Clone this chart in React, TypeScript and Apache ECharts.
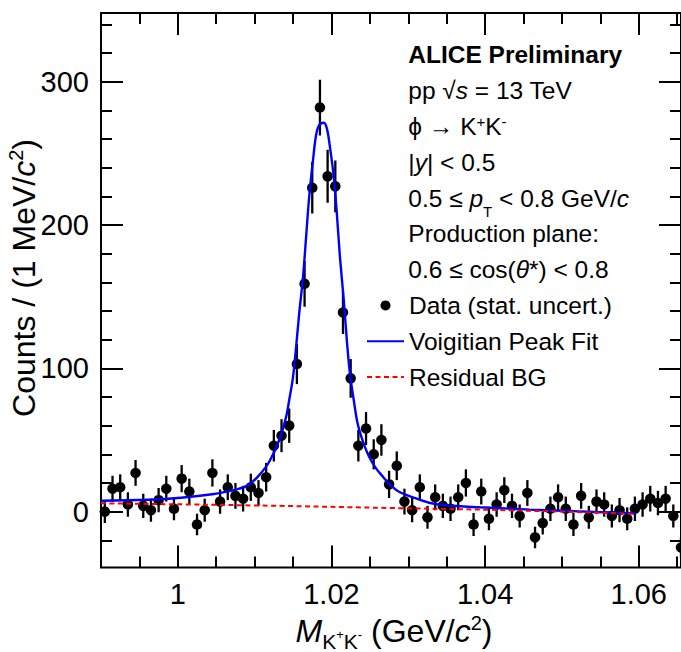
import React, { useEffect, useRef } from 'react';
import * as echarts from 'echarts';

// ---------------- data ----------------
const massBins = [
  0.9905, 0.9915, 0.9925, 0.9935, 0.9945, 0.9955, 0.9965, 0.9975, 0.9985, 0.9995,
  1.0005, 1.0015, 1.0025, 1.0035, 1.0045, 1.0055, 1.0065, 1.0075, 1.0085, 1.0095,
  1.0105, 1.0115, 1.0125, 1.0135, 1.0145, 1.0155, 1.0165, 1.0175, 1.0185, 1.0195,
  1.0205, 1.0215, 1.0225, 1.0235, 1.0245, 1.0255, 1.0265, 1.0275, 1.0285, 1.0295,
  1.0305, 1.0315, 1.0325, 1.0335, 1.0345, 1.0355, 1.0365, 1.0375, 1.0385, 1.0395,
  1.0405, 1.0415, 1.0425, 1.0435, 1.0445, 1.0455, 1.0465, 1.0475, 1.0485, 1.0495,
  1.0505, 1.0515, 1.0525, 1.0535, 1.0545, 1.0555, 1.0565, 1.0575, 1.0585, 1.0595,
  1.0605, 1.0615, 1.0625, 1.0635, 1.0645, 1.0655,
];
const counts = [
  0, 16, 17, 5, 27, 4, 1, 8, 16, 2,
  23, 14, -9, 1, 27, 7, 17, 11, 9, 17,
  13, 24, 46, 53, 60, 103, 159, 226, 282, 234,
  227, 139, 93, 46, 58, 40, 50, 19, 32, 7,
  1, 17, -4, 10, 4, 2, 10, 20, -9, 14,
  -5, 5, 15, 4, -3, 13, -18, -8, 2, 10,
  2, -9, 11, -4, 7, 5, -3, 1, -5, 2,
  5, 9, 6, 9, -3, -25,
];
const statErrors = [
  8, 9, 9, 8.5, 9, 8.5, 8, 8.5, 9, 8,
  9.5, 9, 7.5, 8, 9.5, 8.5, 9, 9, 9, 9.5,
  9, 10, 11, 11.5, 12, 14, 16, 18, 19.5, 18.5,
  18, 15, 13.5, 11, 11.5, 10.5, 11, 9.5, 10, 9,
  8.5, 9, 8, 9, 8.5, 8.5, 9, 9.5, 8, 9,
  8, 8.5, 9, 8.5, 8, 9, 7.5, 8, 8.5, 9,
  8.5, 8, 9, 8, 8.5, 8.5, 8, 8.5, 8, 8.5,
  8.5, 9, 8.5, 9, 8, 7.5,
];
const fitMass = [
  0.99, 0.9961, 1.0004, 1.0047, 1.0069, 1.008, 1.0093, 1.0106, 1.0119, 1.0132,
  1.0141, 1.0145, 1.015, 1.0154, 1.0158, 1.0163, 1.0167, 1.0171, 1.0176, 1.018,
  1.0184, 1.019, 1.0194, 1.0198, 1.0203, 1.0207, 1.0211, 1.0216, 1.022, 1.0224,
  1.0229, 1.0234, 1.0241, 1.0249, 1.0258, 1.0267, 1.0275, 1.0288, 1.0306, 1.0327,
  1.0349, 1.0393, 1.0436, 1.0458, 1.0501, 1.0544, 1.0596,
];
const fitValues = [
  7.6, 8.3, 9.7, 12.3, 14.6, 16, 19, 25.5, 34.8, 50,
  66.2, 77.9, 94.1, 115, 138.4, 163.9, 191.8, 219.7, 245.4, 262.8,
  269.8, 271.4, 267.5, 254.6, 233.7, 208.2, 177.9, 147.7, 119.7, 96.5,
  77.9, 61.6, 48.8, 38.3, 30.2, 24.4, 19.4, 13.9, 10, 6.2,
  4.4, 3, 2, 1.4, 0.6, -0.3, -1.2,
];
const bgMass = [0.99, 1.01, 1.03, 1.045, 1.0596];
const bgValues = [5.8, 4.3, 2.3, 0.7, -1.6];

const xMajorTicks = [1.0, 1.02, 1.04, 1.06];
const xTickLabels = ['1', '1.02', '1.04', '1.06'];
const xMinorTicks = [0.995, 1.005, 1.01, 1.015, 1.025, 1.03, 1.035, 1.045, 1.05, 1.055, 1.065];
const yMajorTicks = [0, 100, 200, 300];
const yTickLabels = ['0', '100', '200', '300'];
const yMinorTicks = [-20, 20, 40, 60, 80, 120, 140, 160, 180, 220, 240, 260, 280, 320, 340];

const legendNames = ['Data (stat. uncert.)', 'Voigitian Peak Fit', 'Residual BG'];
const infoLines = [
  '{b|ALICE Preliminary}',
  '{n|pp }{n|√}{i|s}{n| = 13 TeV}',
  '{n|ϕ → K}{sup|+}{n|K}{sup|-}',
  '{n||}{i|y}{n|| < 0.5}',
  '{n|0.5 ≤ }{i|p}{sub|T}{n| < 0.8 GeV/}{i|c}',
  '{n|Production plane:}',
  '{n|0.6 ≤ cos(}{i|θ}{n|*) < 0.8}',
];
const xTitle = '{mi|M}{tsub|K}{tsubsup|+}{tsub|K}{tsubsup|-}{m| (GeV/}{mi|c}{tsup|2}{m|)}';
const yTitle = '{m|Counts / (1 MeV/}{mi|c}{tsup|2}{m|)}';

// ---------------- layout / style ----------------
const FONT = '"Liberation Sans", Arial, sans-serif';
const XMIN = 0.99;
const XMAX = 1.0655;
const YMIN = -39;
const YMAX = 348;
const FS = 24.5;
const TFS = 32;

const f = (spec: string) => `${spec} ${FONT}`;
const infoRich: any = {
  b: { font: f(`bold ${FS}px`), fill: '#000' },
  n: { font: f(`${FS}px`), fill: '#000' },
  i: { font: f(`italic ${FS}px`), fill: '#000' },
  sup: { font: f('15px'), fill: '#000', padding: [0, 0, 10, 0] },
  sub: { font: f('15px'), fill: '#000', padding: [26, 0, 0, 0] },
};
const titleRich: any = {
  m: { font: f(`${TFS}px`), fill: '#000' },
  mi: { font: f(`italic ${TFS}px`), fill: '#000' },
  tsub: { font: f('21px'), fill: '#000', padding: [20, 0, 0, 0] },
  tsubsup: { font: f('13px'), fill: '#000', padding: [6, 0, 0, 0] },
  tsup: { font: f('20px'), fill: '#000', padding: [0, 0, 16, 0] },
};

const labelFmt = (ticks: number[], labels: string[]) => (v: number) => {
  const i = ticks.findIndex((t) => Math.abs(t - v) < 1e-9);
  return i >= 0 ? labels[i] : '';
};

const makeX = (position: string, ticks: number[], len: number, withLabels: boolean) => ({
  type: 'value',
  position,
  min: XMIN,
  max: XMAX,
  axisLine: { show: false, onZero: false },
  splitLine: { show: false },
  axisPointer: { show: false },
  axisTick: { show: true, inside: true, length: len, customValues: ticks, lineStyle: { color: '#000', width: 2 } },
  axisLabel: withLabels
    ? { show: true, customValues: ticks, formatter: labelFmt(xMajorTicks, xTickLabels), margin: 12, color: '#000', fontSize: 29, fontFamily: FONT }
    : { show: false },
});
const makeY = (position: string, ticks: number[], len: number, withLabels: boolean) => ({
  type: 'value',
  position,
  min: YMIN,
  max: YMAX,
  axisLine: { show: false, onZero: false },
  splitLine: { show: false },
  axisPointer: { show: false },
  axisTick: { show: true, inside: true, length: len, customValues: ticks, lineStyle: { color: '#000', width: 2 } },
  axisLabel: withLabels
    ? { show: true, customValues: ticks, formatter: labelFmt(yMajorTicks, yTickLabels), margin: 12, color: '#000', fontSize: 29, fontFamily: FONT }
    : { show: false },
});

export default function App() {
  const ref = useRef<HTMLDivElement>(null);
  useEffect(() => {
    if (!ref.current) return;
    const chart = echarts.init(ref.current, null, { renderer: 'svg' });
    const option: any = {
      animation: false,
      backgroundColor: '#fff',
      grid: { left: 101, right: 0, top: 13, bottom: 84.5, show: true, borderColor: '#000', borderWidth: 2, backgroundColor: 'transparent' },
      xAxis: [
        makeX('bottom', xMajorTicks, 22, true),
        makeX('bottom', xMinorTicks, 11, false),
        makeX('top', xMajorTicks, 22, false),
        makeX('top', xMinorTicks, 11, false),
      ],
      yAxis: [
        makeY('left', yMajorTicks, 22, true),
        makeY('left', yMinorTicks, 11, false),
        makeY('right', yMajorTicks, 22, false),
        makeY('right', yMinorTicks, 11, false),
      ],
      legend: {
        show: true,
        orient: 'vertical',
        left: 366,
        top: 292.4,
        padding: 0,
        itemWidth: 37,
        itemHeight: 10,
        itemGap: 9.8,
        selectedMode: false,
        data: [
          { name: legendNames[0] },
          { name: legendNames[1], itemStyle: { opacity: 0 } },
          { name: legendNames[2], itemStyle: { opacity: 0 } },
        ],
        textStyle: { fontSize: FS, fontFamily: FONT, color: '#000', lineHeight: 26 },
      },
      series: [
        {
          type: 'custom',
          name: 'errors',
          xAxisIndex: 0,
          yAxisIndex: 0,
          silent: true,
          clip: true,
          z: 3,
          data: massBins.map((m, i) => [m, counts[i], statErrors[i]]),
          encode: { x: 0, y: 1 },
          renderItem: (_p: any, api: any) => {
            const x = api.value(0);
            const y = api.value(1);
            const e = api.value(2);
            const a = api.coord([x, y - e]);
            const b = api.coord([x, y + e]);
            return { type: 'line', shape: { x1: a[0], y1: a[1], x2: b[0], y2: b[1] }, style: { stroke: '#000', lineWidth: 2.3 } };
          },
        },
        {
          type: 'scatter',
          name: legendNames[0],
          xAxisIndex: 0,
          yAxisIndex: 0,
          clip: true,
          z: 3,
          symbol: 'circle',
          symbolSize: 10.5,
          itemStyle: { color: '#000', opacity: 1 },
          data: massBins.map((m, i) => [m, counts[i]]),
        },
        {
          type: 'line',
          name: legendNames[1],
          xAxisIndex: 0,
          yAxisIndex: 0,
          z: 4,
          smooth: 0.35,
          symbol: 'none',
          lineStyle: { color: '#0000ff', width: 2.4 },
          itemStyle: { color: '#0000ff' },
          data: fitMass.map((m, i) => [m, fitValues[i]]),
        },
        {
          type: 'line',
          name: legendNames[2],
          xAxisIndex: 0,
          yAxisIndex: 0,
          z: 5,
          smooth: true,
          symbol: 'none',
          lineStyle: { color: '#ff0000', width: 2, type: [5, 3.5] },
          itemStyle: { color: '#ff0000' },
          data: bgMass.map((m, i) => [m, bgValues[i]]),
        },
      ],
      graphic: {
        elements: [
          ...infoLines.map((t, i) => ({
            type: 'text',
            x: 408.3,
            y: 54.8 + 35.8 * i,
            silent: true,
            style: { text: t, rich: infoRich, font: f(`${FS}px`), fill: '#000', align: 'left', verticalAlign: 'middle' },
          })),
          {
            type: 'text',
            x: 394,
            y: 631,
            silent: true,
            style: { text: xTitle, rich: titleRich, font: f(`${TFS}px`), fill: '#000', align: 'center', verticalAlign: 'middle' },
          },
          {
            type: 'text',
            x: 24,
            y: 278,
            rotation: Math.PI / 2,
            silent: true,
            style: { text: yTitle, rich: titleRich, font: f(`${TFS}px`), fill: '#000', align: 'center', verticalAlign: 'middle' },
          },
        ],
      },
    };
    chart.setOption(option);
    return () => chart.dispose();
  }, []);
  return <div ref={ref} style={{ position: 'fixed', left: 0, top: 0, width: 681, height: 652, background: '#fff' }} />;
}
